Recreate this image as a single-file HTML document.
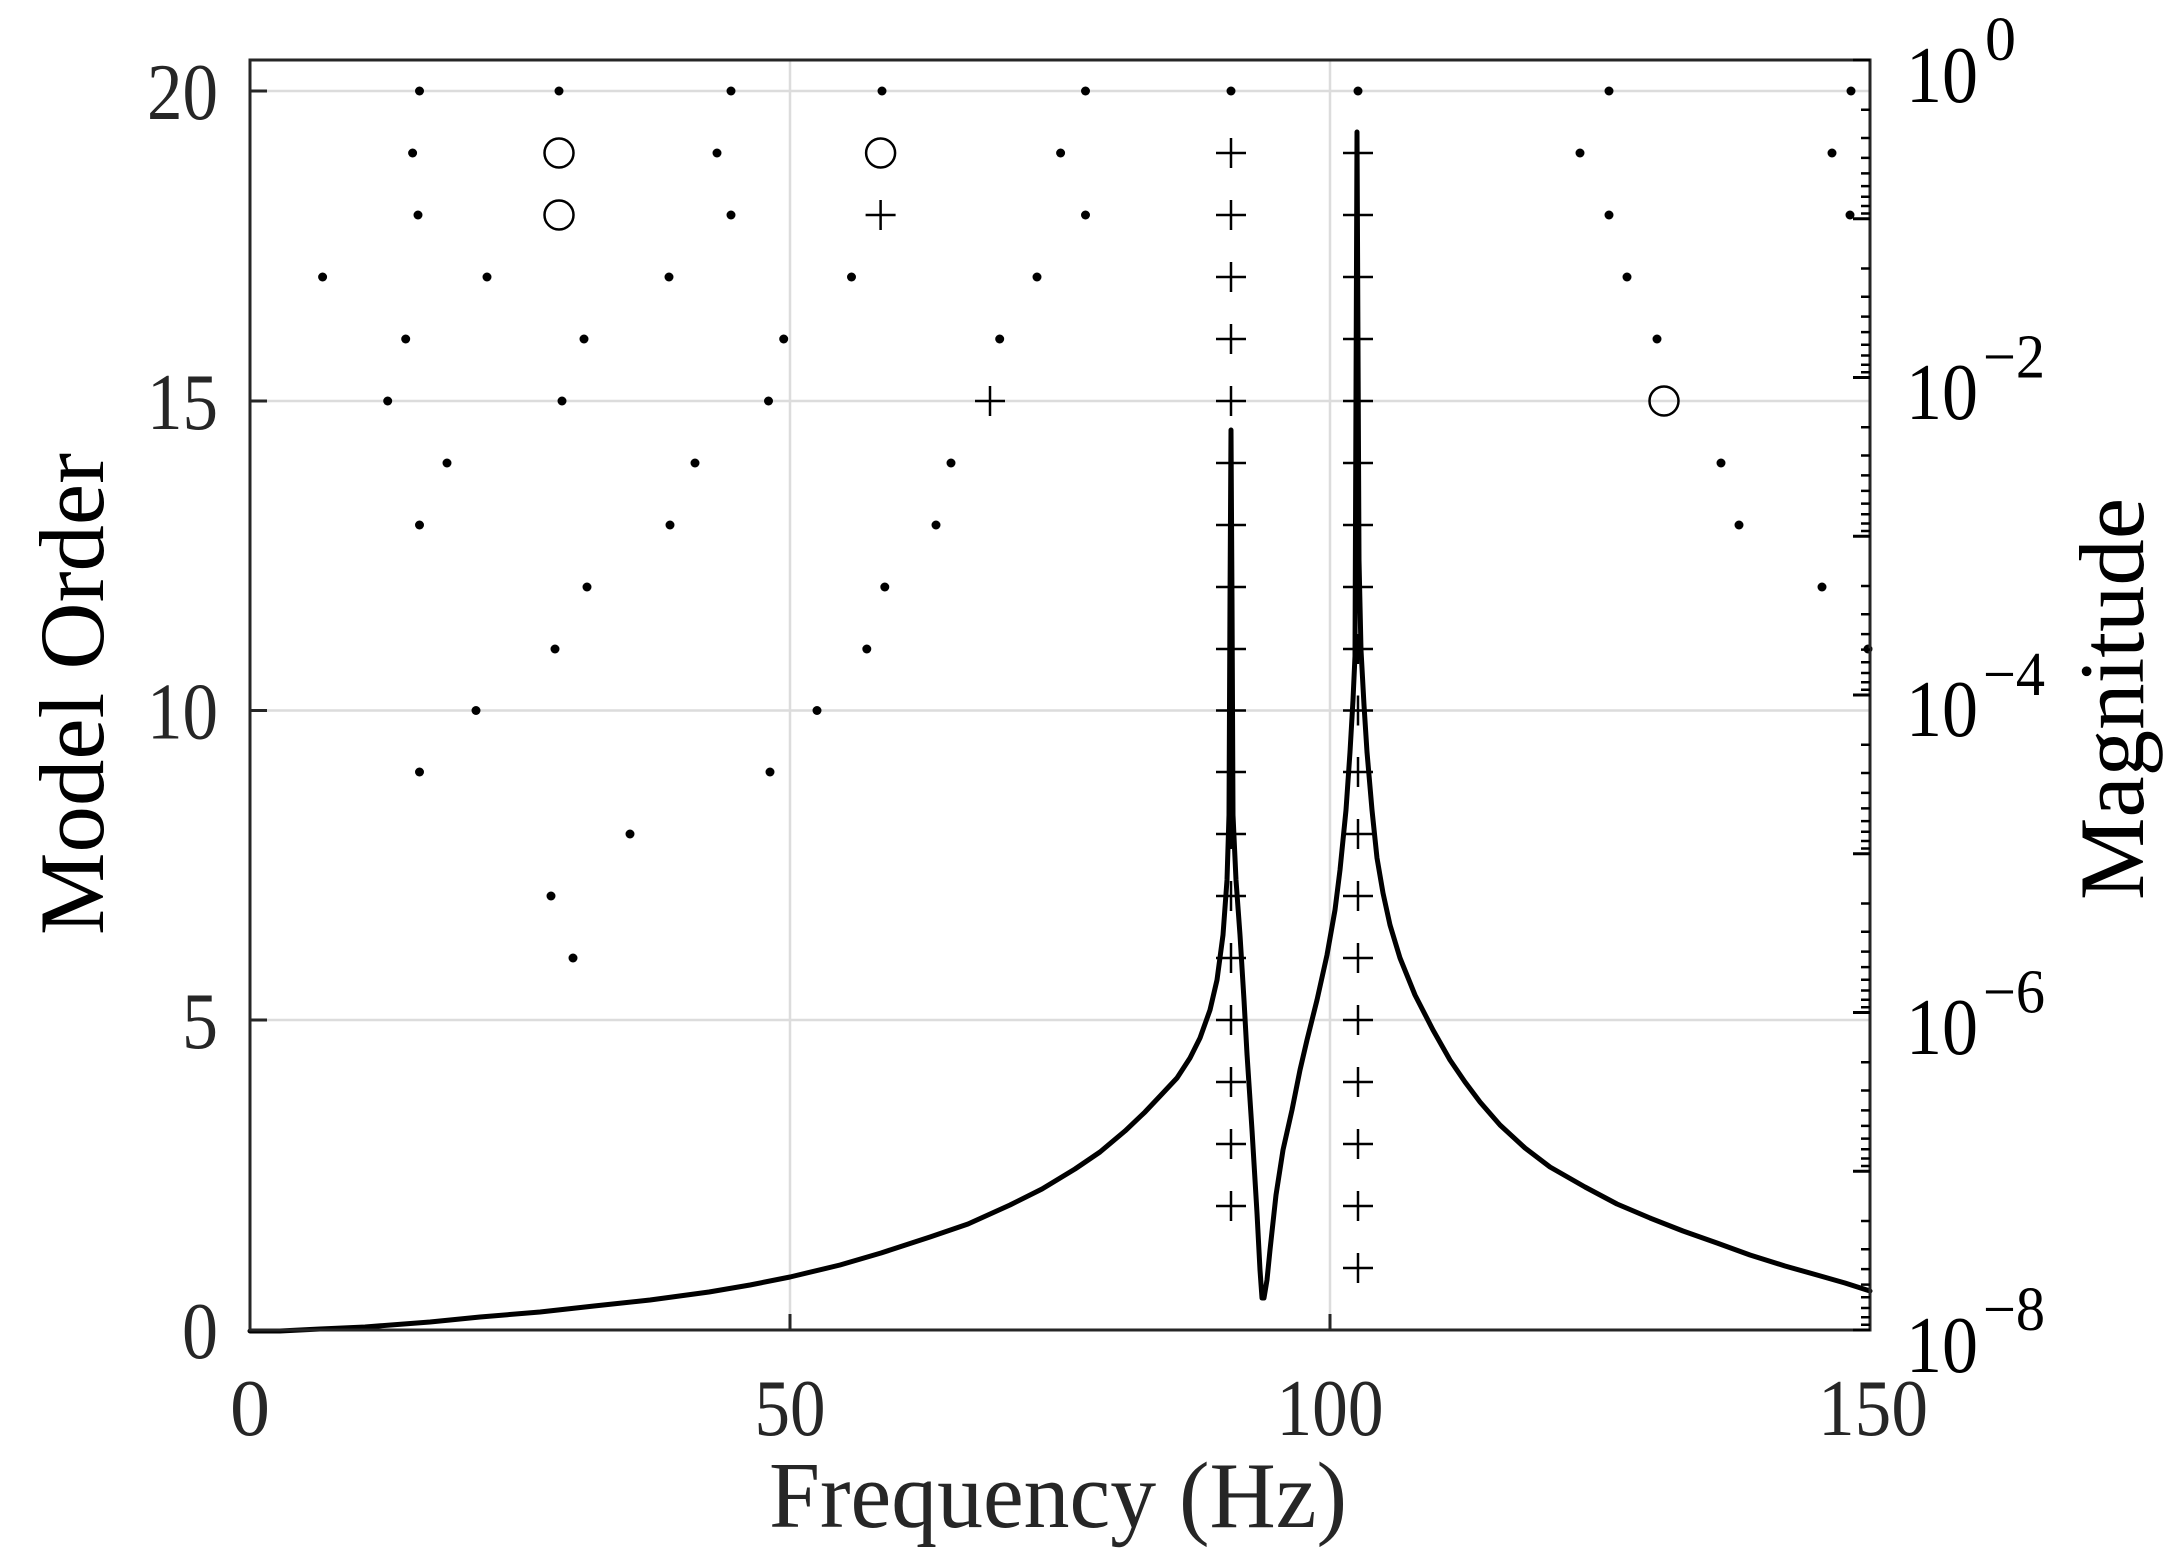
<!DOCTYPE html>
<html><head><meta charset="utf-8"><style>html,body{margin:0;padding:0;background:#fff}svg{display:block}</style></head>
<body>
<svg width="2169" height="1567" viewBox="0 0 2169 1567" xmlns="http://www.w3.org/2000/svg" font-family="Liberation Serif, serif">
<defs>
<g id="p"><line x1="-15" y1="0" x2="15" y2="0" stroke="#000" stroke-width="2.5"/><line x1="0" y1="-15" x2="0" y2="15" stroke="#000" stroke-width="2.5"/></g>
<circle id="d" r="4.5" fill="#000"/>
<circle id="o" r="14.5" fill="none" stroke="#000" stroke-width="2.5"/>
</defs>
<g stroke="#dcdcdc" stroke-width="2.5">
<line x1="250" y1="91" x2="1870" y2="91"/><line x1="250" y1="401" x2="1870" y2="401"/>
<line x1="250" y1="710.5" x2="1870" y2="710.5"/><line x1="250" y1="1020" x2="1870" y2="1020"/>
<line x1="790" y1="60" x2="790" y2="1330"/><line x1="1330" y1="60" x2="1330" y2="1330"/>
</g>
<path fill="none" stroke="#000" stroke-width="5" stroke-linejoin="round" stroke-linecap="round" d="M250,1331 L280,1331 L320,1329 L365,1327 L430,1322 L480,1317 L540,1312 L594,1306 L650,1300 L709,1292 L750,1285 L790,1277 L840,1265 L881,1253 L930,1237 L968,1224 L1010,1205 L1042,1189 L1075,1169 L1100,1152 L1125,1131 L1145,1112 L1162,1094 L1177,1078 L1190,1058 L1200,1038 L1210,1010 L1217,980 L1223,935 L1227,880 L1229,815 L1230,600 L1231,430 L1232,600 L1233,815 L1236,880 L1240,935 L1244,1000 L1247,1054 L1252,1130 L1257,1213 L1260,1270 L1262,1298 L1264,1298 L1267,1280 L1270,1250 L1276,1195 L1283,1150 L1292,1110 L1300,1070 L1307,1040 L1317,1000 L1327,955 L1335,910 L1340,870 L1346,810 L1350,752 L1353,700 L1355,656 L1357,132 L1359,560 L1361,650 L1364,705 L1367,752 L1372,810 L1377,858 L1383,893 L1390,925 L1400,958 L1415,995 L1433,1030 L1450,1060 L1465,1082 L1480,1102 L1500,1125 L1525,1148 L1550,1167 L1585,1187 L1617,1204 L1650,1218 L1683,1231 L1717,1243 L1750,1255 L1785,1266 L1817,1275 L1845,1283 L1870,1291"/>
<g>
<use href="#p" x="1231" y="153"/><use href="#p" x="1231" y="215"/><use href="#p" x="1231" y="277"/><use href="#p" x="1231" y="339"/><use href="#p" x="1231" y="401"/><use href="#p" x="1231" y="463"/><use href="#p" x="1231" y="525"/><use href="#p" x="1231" y="587"/><use href="#p" x="1231" y="649"/><use href="#p" x="1231" y="710.5"/><use href="#p" x="1231" y="772"/><use href="#p" x="1231" y="834"/><use href="#p" x="1231" y="896"/><use href="#p" x="1231" y="958"/><use href="#p" x="1231" y="1020"/><use href="#p" x="1231" y="1082"/><use href="#p" x="1231" y="1144"/><use href="#p" x="1231" y="1206"/>
<use href="#p" x="1358" y="153"/><use href="#p" x="1358" y="215"/><use href="#p" x="1358" y="277"/><use href="#p" x="1358" y="339"/><use href="#p" x="1358" y="401"/><use href="#p" x="1358" y="463"/><use href="#p" x="1358" y="525"/><use href="#p" x="1358" y="587"/><use href="#p" x="1358" y="649"/><use href="#p" x="1358" y="710.5"/><use href="#p" x="1358" y="772"/><use href="#p" x="1358" y="834"/><use href="#p" x="1358" y="896"/><use href="#p" x="1358" y="958"/><use href="#p" x="1358" y="1020"/><use href="#p" x="1358" y="1082"/><use href="#p" x="1358" y="1144"/><use href="#p" x="1358" y="1206"/><use href="#p" x="1358" y="1268"/>
<use href="#p" x="880.6" y="215"/><use href="#p" x="990" y="401"/>
<use href="#o" x="559" y="153"/><use href="#o" x="559" y="215"/><use href="#o" x="880.6" y="153"/><use href="#o" x="1664" y="401"/>
<use href="#d" x="419.5" y="91"/><use href="#d" x="559" y="91"/><use href="#d" x="731" y="91"/><use href="#d" x="882" y="91"/><use href="#d" x="1085.5" y="91"/><use href="#d" x="1231" y="91"/><use href="#d" x="1358" y="91"/><use href="#d" x="1609" y="91"/><use href="#d" x="1851" y="91"/>
<use href="#d" x="412.6" y="153"/><use href="#d" x="717" y="153"/><use href="#d" x="1060.6" y="153"/><use href="#d" x="1580" y="153"/><use href="#d" x="1832" y="153"/>
<use href="#d" x="418" y="215"/><use href="#d" x="731" y="215"/><use href="#d" x="1085.5" y="215"/><use href="#d" x="1609" y="215"/><use href="#d" x="1850" y="215"/>
<use href="#d" x="322.6" y="277"/><use href="#d" x="487" y="277"/><use href="#d" x="669" y="277"/><use href="#d" x="851.5" y="277"/><use href="#d" x="1037" y="277"/><use href="#d" x="1627" y="277"/>
<use href="#d" x="405.7" y="339"/><use href="#d" x="584" y="339"/><use href="#d" x="783.7" y="339"/><use href="#d" x="999.7" y="339"/><use href="#d" x="1657" y="339"/>
<use href="#d" x="387.7" y="401"/><use href="#d" x="562" y="401"/><use href="#d" x="768.5" y="401"/>
<use href="#d" x="447" y="463"/><use href="#d" x="695" y="463"/><use href="#d" x="951" y="463"/><use href="#d" x="1721" y="463"/>
<use href="#d" x="419.5" y="525"/><use href="#d" x="670" y="525"/><use href="#d" x="936" y="525"/><use href="#d" x="1739" y="525"/>
<use href="#d" x="587" y="587"/><use href="#d" x="884.8" y="587"/><use href="#d" x="1822" y="587"/>
<use href="#d" x="555" y="649"/><use href="#d" x="866.8" y="649"/><use href="#d" x="1868" y="649"/>
<use href="#d" x="476" y="710.5"/><use href="#d" x="817" y="710.5"/>
<use href="#d" x="419.5" y="772"/><use href="#d" x="770" y="772"/>
<use href="#d" x="630" y="834"/><use href="#d" x="551" y="896"/><use href="#d" x="573" y="958"/>
</g>
<rect x="250" y="60" width="1620" height="1270" fill="none" stroke="#262626" stroke-width="3"/>
<g stroke="#262626" stroke-width="3">
<line x1="250" y1="91" x2="267" y2="91"/><line x1="250" y1="401" x2="267" y2="401"/><line x1="250" y1="710.5" x2="267" y2="710.5"/><line x1="250" y1="1020" x2="267" y2="1020"/>
<line x1="790" y1="1330" x2="790" y2="1314"/><line x1="1330" y1="1330" x2="1330" y2="1314"/>
</g>
<g stroke="#000" stroke-width="3">
<line x1="1853" y1="60" x2="1870" y2="60"/><line x1="1853" y1="377.5" x2="1870" y2="377.5"/><line x1="1853" y1="695" x2="1870" y2="695"/><line x1="1853" y1="1012.5" x2="1870" y2="1012.5"/><line x1="1853" y1="1330" x2="1870" y2="1330"/>
<line x1="1853" y1="218.75" x2="1870" y2="218.75"/><line x1="1853" y1="536.25" x2="1870" y2="536.25"/><line x1="1853" y1="853.75" x2="1870" y2="853.75"/><line x1="1853" y1="1171.25" x2="1870" y2="1171.25"/>
</g>
<g stroke="#000" stroke-width="2.5">
<path d="M1861,109.8h9M1861,138h9M1861,157.9h9M1861,173.4h9M1861,186.1h9M1861,196.8h9M1861,206h9M1861,213.5h9
M1861,268.5h9M1861,296.8h9M1861,316.6h9M1861,332.1h9M1861,344.8h9M1861,355.5h9M1861,364.7h9M1861,372.2h9
M1861,427.3h9M1861,455.5h9M1861,475.4h9M1861,490.9h9M1861,503.6h9M1861,514.3h9M1861,523.5h9M1861,531h9
M1861,586h9M1861,614.3h9M1861,634.1h9M1861,649.6h9M1861,662.3h9M1861,673h9M1861,682.2h9M1861,689.7h9
M1861,744.8h9M1861,773h9M1861,792.9h9M1861,808.4h9M1861,821.1h9M1861,831.8h9M1861,841h9M1861,848.5h9
M1861,903.5h9M1861,931.8h9M1861,951.6h9M1861,967.1h9M1861,979.8h9M1861,990.5h9M1861,999.7h9M1861,1007.2h9
M1861,1062.3h9M1861,1090.5h9M1861,1110.4h9M1861,1125.9h9M1861,1138.6h9M1861,1149.3h9M1861,1158.5h9M1861,1166h9
M1861,1221h9M1861,1249.3h9M1861,1269.1h9M1861,1284.6h9M1861,1297.3h9M1861,1308h9M1861,1317.2h9M1861,1324.7h9"/>
</g>
<g fill="#262626" font-size="80" text-anchor="end">
<text x="218" y="119" textLength="71" lengthAdjust="spacingAndGlyphs">20</text>
<text x="218" y="429" textLength="71" lengthAdjust="spacingAndGlyphs">15</text>
<text x="218" y="738.5" textLength="71" lengthAdjust="spacingAndGlyphs">10</text>
<text x="218" y="1048" textLength="36" lengthAdjust="spacingAndGlyphs">5</text>
<text x="218" y="1358" textLength="36" lengthAdjust="spacingAndGlyphs">0</text>
</g>
<g fill="#262626" font-size="80" text-anchor="middle">
<text x="250" y="1435">0</text>
<text x="790" y="1435" textLength="71" lengthAdjust="spacingAndGlyphs">50</text>
<text x="1330" y="1435" textLength="107" lengthAdjust="spacingAndGlyphs">100</text>
<text x="1873" y="1435" textLength="110" lengthAdjust="spacingAndGlyphs">150</text>
</g>
<g fill="#000">
<text x="1906" y="102" font-size="80" textLength="72" lengthAdjust="spacingAndGlyphs">10</text><text x="1985" y="60" font-size="62">0</text>
<text x="1906" y="419" font-size="80" textLength="72" lengthAdjust="spacingAndGlyphs">10</text><text x="1983" y="377.5" font-size="62" textLength="62" lengthAdjust="spacingAndGlyphs">−2</text>
<text x="1906" y="736" font-size="80" textLength="72" lengthAdjust="spacingAndGlyphs">10</text><text x="1983" y="695" font-size="62" textLength="62" lengthAdjust="spacingAndGlyphs">−4</text>
<text x="1906" y="1054" font-size="80" textLength="72" lengthAdjust="spacingAndGlyphs">10</text><text x="1983" y="1012.5" font-size="62" textLength="62" lengthAdjust="spacingAndGlyphs">−6</text>
<text x="1906" y="1372" font-size="80" textLength="72" lengthAdjust="spacingAndGlyphs">10</text><text x="1983" y="1330" font-size="62" textLength="62" lengthAdjust="spacingAndGlyphs">−8</text>
</g>
<text x="769" y="1527" font-size="94" fill="#262626" textLength="578" lengthAdjust="spacingAndGlyphs">Frequency (Hz)</text>
<text transform="translate(103,935) rotate(-90)" font-size="92" fill="#000" textLength="482" lengthAdjust="spacingAndGlyphs">Model Order</text>
<text transform="translate(2143,900) rotate(-90)" font-size="92" fill="#000" textLength="402" lengthAdjust="spacingAndGlyphs">Magnitude</text>
</svg>
</body></html>
